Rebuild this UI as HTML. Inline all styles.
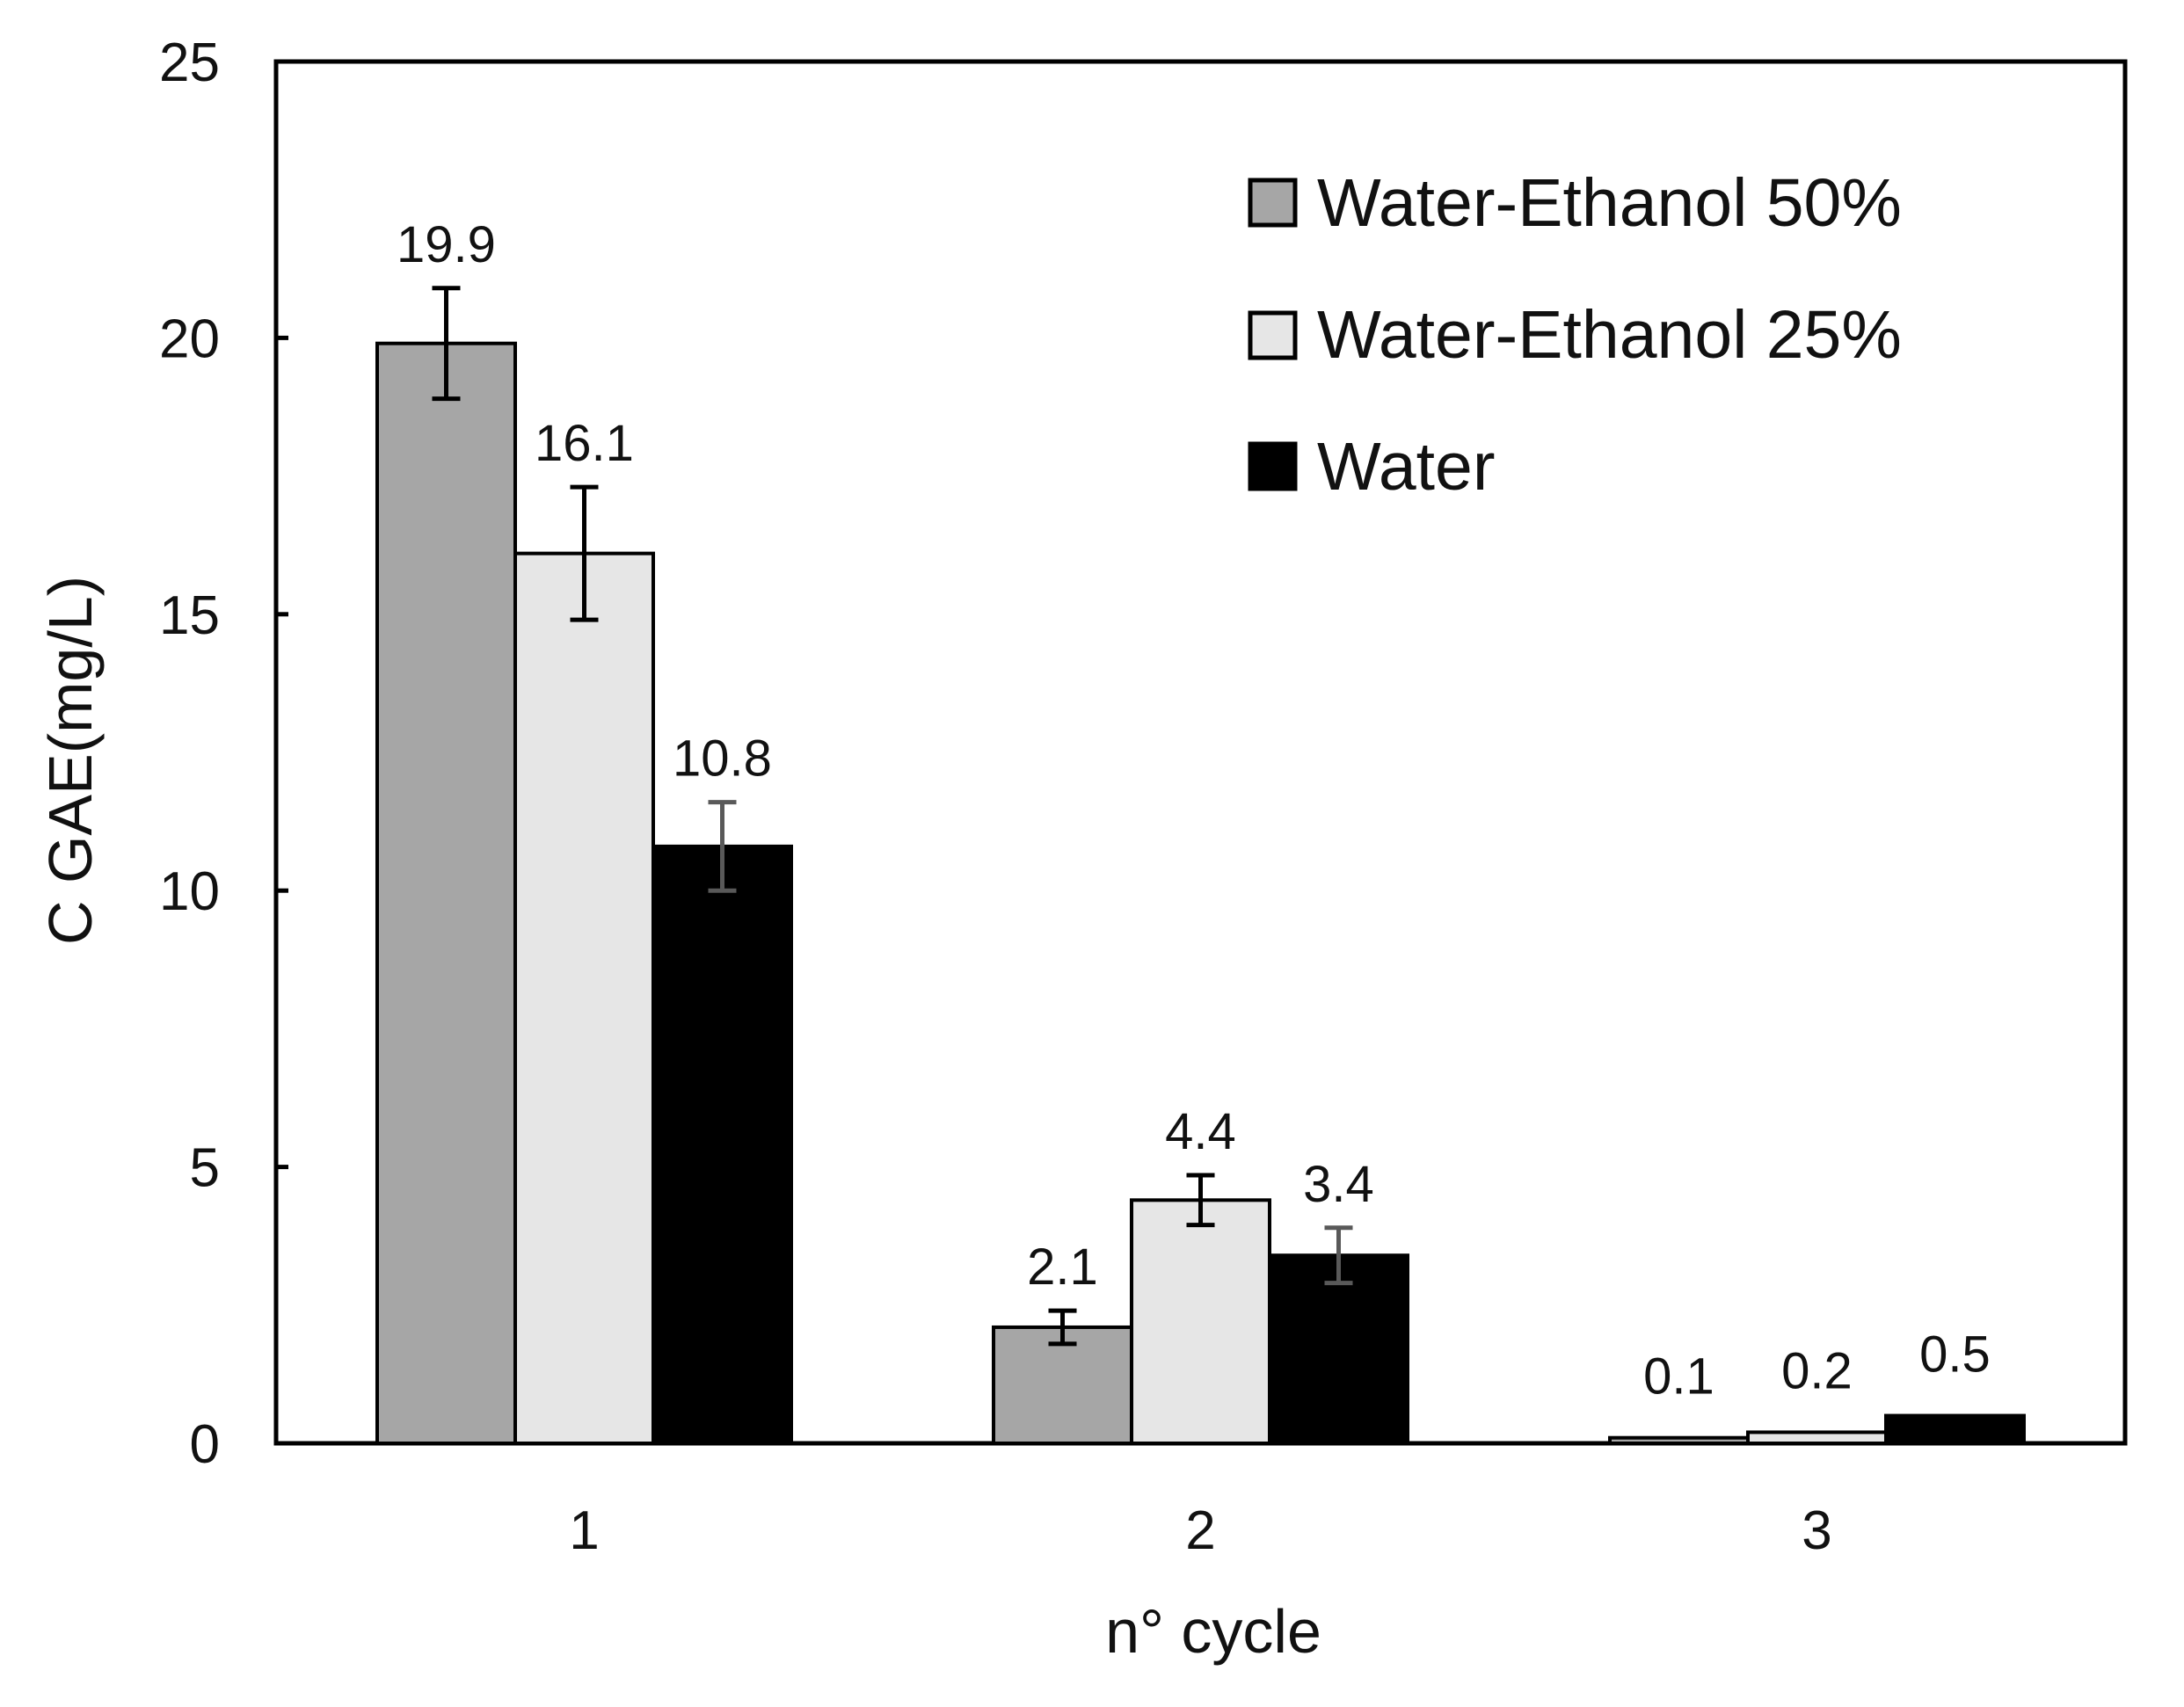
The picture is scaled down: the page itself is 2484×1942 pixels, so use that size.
<!DOCTYPE html>
<html><head><meta charset="utf-8"><style>
html,body{margin:0;padding:0;background:#fff}
svg{display:block}
text{font-family:"Liberation Sans",sans-serif;fill:#111}
</style></head><body>
<svg id="chart" width="2484" height="1942" viewBox="0 0 2484 1942" xmlns="http://www.w3.org/2000/svg">
<rect x="314" y="70" width="2103" height="1572" fill="none" stroke="#000" stroke-width="5"/>
<g id="bars"></g>
<g id="axes"></g>
<text x="1380" y="1880" font-size="70" text-anchor="middle">n° cycle</text>
<text transform="translate(104,865) rotate(-90)" font-size="70" text-anchor="middle">C GAE(mg/L)</text>
<g>
  <g>
    <rect x="1422" y="205" width="51" height="51" fill="#a6a6a6" stroke="#000" stroke-width="5"/>
    <text x="1498" y="257" font-size="77">Water-Ethanol 50%</text>
  </g>
  <g>
    <rect x="1422" y="356" width="51" height="51" fill="#e6e6e6" stroke="#000" stroke-width="5"/>
    <text x="1498" y="407" font-size="77">Water-Ethanol 25%</text>
  </g>
  <g>
    <rect x="1422" y="505" width="51" height="51" fill="#000" stroke="#000" stroke-width="5"/>
    <text x="1498" y="557" font-size="77">Water</text>
  </g>
</g>
</svg>
<script>
const categories = ["1", "2", "3"];
const seriesNames = ["Water-Ethanol 50%", "Water-Ethanol 25%", "Water"];
const ethanol50 = [19.9, 2.1, 0.1];
const ethanol25 = [16.1, 4.4, 0.2];
const water = [10.8, 3.4, 0.5];
const err50 = [1.0, 0.3, 0];
const err25 = [1.2, 0.45, 0];
const errWater = [0.8, 0.5, 0];
const yTicks = [0, 5, 10, 15, 20, 25];

const NS = "http://www.w3.org/2000/svg";
const L = 314, R = 2417, T = 70, B = 1642, YMAX = 25;
const yS = v => B - v / YMAX * (B - T);
const bandW = (R - L) / categories.length;
const xC = i => L + bandW * (i + 0.5);
const barW = 157;
const series = [ethanol50, ethanol25, water];
const errs = [err50, err25, errWater];
const fills = ["#a6a6a6", "#e6e6e6", "#000"];
const errColors = ["#000", "#000", "#595959"];
const barsG = document.getElementById("bars");
const axesG = document.getElementById("axes");
function mk(tag, attrs, parent) {
  const e = document.createElementNS(NS, tag);
  for (const k in attrs) e.setAttribute(k, attrs[k]);
  parent.appendChild(e);
  return e;
}
categories.forEach((c, i) => {
  series.forEach((s, j) => {
    const x0 = xC(i) + (j - 1.5) * barW;
    const top = yS(s[i]);
    const r = mk("rect", {x: x0, y: top, width: barW, height: B - top, fill: fills[j], stroke: "#000", "stroke-width": 4}, barsG);
    
    
    const cx = x0 + barW / 2;
    let labY = top - 50;
    const e = errs[j][i];
    if (e > 0) {
      const y1 = yS(s[i] + e), y2 = yS(s[i] - e);
      const eg = mk("g", {stroke: errColors[j], "stroke-width": 5}, barsG);
      
      
      mk("line", {x1: cx, y1: y1, x2: cx, y2: y2}, eg);
      mk("line", {x1: cx - 16, y1: y1, x2: cx + 16, y2: y1}, eg);
      mk("line", {x1: cx - 16, y1: y2, x2: cx + 16, y2: y2}, eg);
      labY = y1 - 30;
    }
    const t = mk("text", {x: cx, y: labY, "font-size": 58, "text-anchor": "middle"}, barsG);
    t.textContent = s[i].toFixed(1);
    
    
  });
  const xl = mk("text", {x: xC(i), y: 1762, "font-size": 62, "text-anchor": "middle"}, axesG);
  xl.textContent = c;
  
  
});
yTicks.forEach(v => {
  const y = yS(v);
  const tk = mk("line", {x1: L, y1: y, x2: L + 14, y2: y, stroke: "#000", "stroke-width": 5}, axesG);
  
  
  const tl = mk("text", {x: 250, y: y + 22, "font-size": 62, "text-anchor": "end"}, axesG);
  tl.textContent = v;
  
  
});
</script>
</body></html>
